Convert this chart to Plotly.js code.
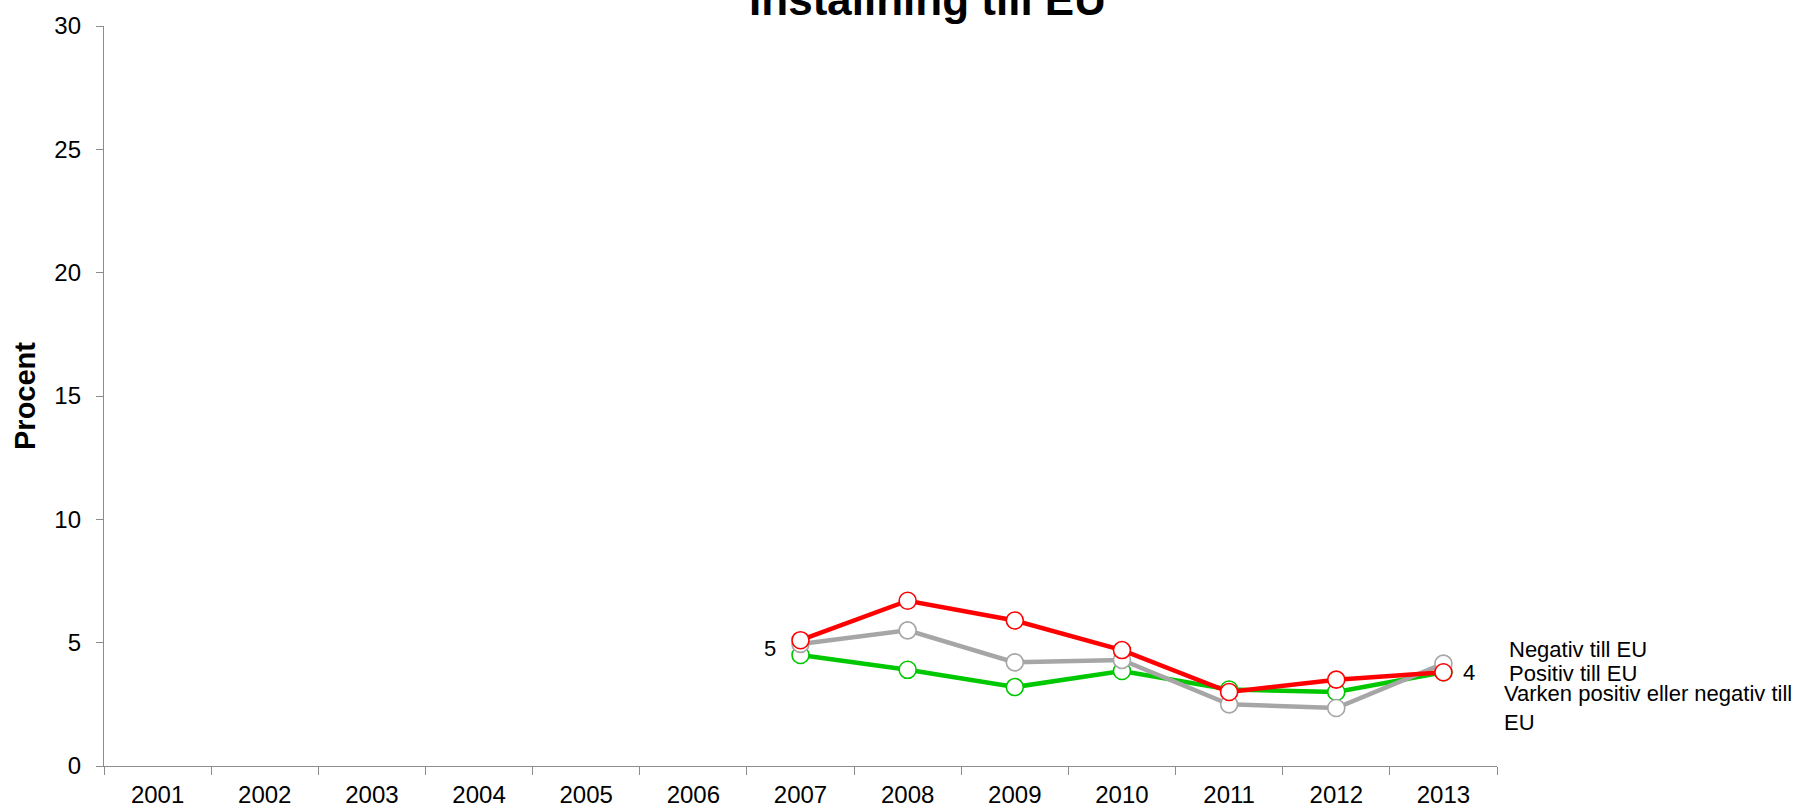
<!DOCTYPE html>
<html>
<head>
<meta charset="utf-8">
<script src="https://cdn.plot.ly/plotly-3.0.1.min.js"></script>
<style>html,body{margin:0;padding:0;background:#fff}#chart{width:1806px;height:808px}</style>
</head>
<body>
<div id="chart"></div>
<script>
const years = ["2001","2002","2003","2004","2005","2006","2007","2008","2009","2010","2011","2012","2013"];
const negativ = [null,null,null,null,null,null,5.1,6.7,5.9,4.7,3.0,3.5,3.8];
const varken  = [null,null,null,null,null,null,4.95,5.5,4.2,4.3,2.5,2.35,4.15];
const positiv = [null,null,null,null,null,null,4.5,3.9,3.2,3.85,3.1,3.0,3.8];
const seriesNames = ["Negativ till EU","Positiv till EU","Varken positiv eller negativ till<br>EU"];
const titleText = "Inställning till EU";
const yTitle = "Procent";

const FONT = "Liberation Sans, Arial, sans-serif";
function tr(y, color, name){
  return {x: years, y: y, type:'scatter', mode:'lines+markers', name:name,
    line:{color:color, width:4.5},
    marker:{size:17, color:'#ffffff', line:{color:color, width:1.6}},
    connectgaps:false, hoverinfo:'x+y'};
}
const data = [
  tr(positiv, '#00C800', 'Positiv till EU'),
  tr(varken, '#A6A6A6', 'Varken positiv eller negativ till EU'),
  tr(negativ, '#FF0000', 'Negativ till EU')
];
const iFirst = years.indexOf("2007");
const iLast = years.indexOf("2013");
const axisColor = '#8C8C8C';
const layout = {
  width:1806, height:808,
  margin:{l:104, r:309, t:22, b:42},
  paper_bgcolor:'#fff', plot_bgcolor:'#fff',
  showlegend:false,
  font:{family:FONT, color:'#000', size:22},
  title:{text:'<b>'+titleText+'</b>', font:{family:FONT, size:44, color:'#000'},
    xref:'container', yref:'container', x:0.5136, xanchor:'center', y:1, yanchor:'middle'},
  xaxis:{type:'category', categoryarray:years, range:[-0.5,12.5], tickson:'boundaries',
    ticks:'outside', ticklen:8, tickcolor:axisColor, tickwidth:1.3,
    showline:true, linecolor:axisColor, linewidth:1.3, showgrid:false, zeroline:false,
    tickfont:{family:FONT, size:24}, ticklabelstandoff:7, fixedrange:true},
  yaxis:{range:[0,30], dtick:5, tick0:0, ticks:'outside', ticklen:7, tickcolor:axisColor, tickwidth:1.3,
    showline:true, linecolor:axisColor, linewidth:1.3, showgrid:false, zeroline:false,
    tickfont:{family:FONT, size:24}, ticklabelstandoff:10,
    title:{text:'<b>'+yTitle+'</b>', font:{family:FONT, size:29}, standoff:10},
    automargin:true, fixedrange:true},
  annotations:[
    {x:iFirst, y:negativ[iFirst], xref:'x', yref:'y', text:String(Math.round(negativ[iFirst])), showarrow:false,
      xanchor:'center', yanchor:'middle', xshift:-31, yshift:-8, font:{family:FONT, size:22}},
    {x:iLast, y:negativ[iLast], xref:'x', yref:'y', text:String(Math.round(negativ[iLast])), showarrow:false,
      xanchor:'center', yanchor:'middle', xshift:26, yshift:0, font:{family:FONT, size:22}},
    {x:1.0072, y:0.1573, xref:'paper', yref:'paper', text:seriesNames[0], showarrow:false,
      xanchor:'left', yanchor:'middle', align:'left', font:{family:FONT, size:22}},
    {x:1.0072, y:0.125, xref:'paper', yref:'paper', text:seriesNames[1], showarrow:false,
      xanchor:'left', yanchor:'middle', align:'left', font:{family:FONT, size:22}},
    {x:1.0036, y:0.079, xref:'paper', yref:'paper', text:seriesNames[2], showarrow:false,
      xanchor:'left', yanchor:'middle', align:'left', font:{family:FONT, size:22}}
  ]
};
Plotly.newPlot('chart', data, layout, {displayModeBar:false});
</script>
</body>
</html>
